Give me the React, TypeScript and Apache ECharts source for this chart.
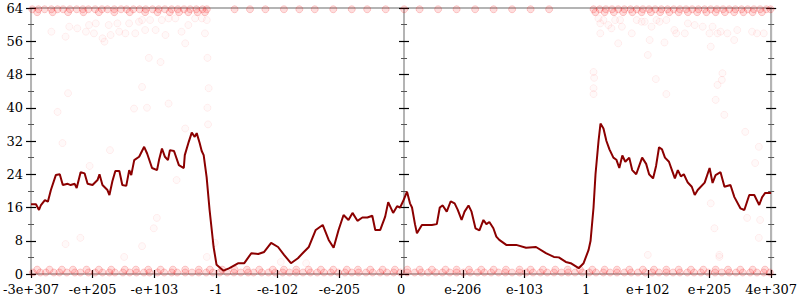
import React, { useEffect, useRef } from "react";
import * as echarts from "echarts";

const xTickLabels = ["-3e+307", "-e+205", "-e+103", "-1", "-e-102", "-e-205", "0", "e-206", "e-103", "1", "e+102", "e+205", "4e+307"];

const lineX = [
  0, 0.08, 0.129, 0.161, 0.225, 0.273, 0.322, 0.402, 0.466, 0.515, 0.595, 0.643, 0.708, 0.74, 0.804, 0.869, 0.917, 0.997,
  1.078, 1.11, 1.158, 1.239, 1.271, 1.319, 1.367, 1.432, 1.48, 1.544, 1.592, 1.625, 1.673, 1.753, 1.834, 1.882, 1.962,
  2.043, 2.075, 2.123, 2.171, 2.22, 2.252, 2.316, 2.332, 2.397, 2.477, 2.493, 2.557, 2.606, 2.654, 2.686, 2.734, 2.767,
  2.799, 2.847, 2.895, 2.96, 3.008, 3.121, 3.217, 3.362, 3.458, 3.571, 3.683, 3.78, 3.893, 4.005, 4.102, 4.214, 4.327,
  4.423, 4.504, 4.616, 4.729, 4.826, 4.906, 4.986, 5.067, 5.147, 5.212, 5.292, 5.372, 5.453, 5.533, 5.581, 5.662, 5.742,
  5.791, 5.871, 5.935, 5.984,
  6.032, 6.096, 6.144, 6.177, 6.225, 6.257, 6.337, 6.418, 6.498, 6.579, 6.627, 6.675, 6.74, 6.804, 6.868, 6.917, 6.981,
  7.029, 7.093, 7.142, 7.206, 7.27, 7.335, 7.383, 7.431, 7.496, 7.544, 7.592, 7.705, 7.866, 8.026, 8.187, 8.348, 8.477,
  8.557, 8.67, 8.75, 8.879, 8.959, 9.04, 9.072, 9.12, 9.152, 9.201, 9.233, 9.281, 9.329, 9.378, 9.442, 9.49, 9.538, 9.587,
  9.635, 9.699, 9.747, 9.812, 9.86, 9.908, 9.973, 10.021, 10.085, 10.134, 10.182, 10.23, 10.278, 10.343, 10.391, 10.439,
  10.487, 10.536, 10.584, 10.648, 10.713, 10.761, 10.809, 10.922, 11.002, 11.05, 11.099, 11.179, 11.243, 11.34, 11.404,
  11.501, 11.565, 11.645, 11.726, 11.806, 11.854, 11.903, 12
];
const lineY = [
  16.8, 16.8, 15.4, 16.6, 17.8, 17.4, 20.2, 23.8, 24, 21.4, 21.7, 21.4, 21.7, 20.7, 24.5, 24.2, 21.7, 21.4,
  22.6, 24, 21.4, 20.2, 19, 22.3, 24.8, 24.8, 21.4, 21.2, 25, 23.8, 27.4, 28.2, 30.6, 29, 25.5,
  25, 27.4, 30.2, 28.2, 27.4, 29.8, 29.6, 29, 26.2, 25.5, 28.6, 31.8, 34, 33, 33.9, 31.5, 29.6,
  28.6, 23.3, 15.4, 6.5, 2.2, 0.8, 1.4, 2.6, 2.6, 5, 4.8, 5.3, 7.5, 6.5, 4.6, 2.6, 3.8,
  5.3, 6.5, 10.6, 11.8, 8.2, 6.3, 10.6, 14.2, 13, 14.7, 12.8, 13.6, 13.6, 14, 10.6, 10.6, 13.8,
  17.3, 14.7, 16.3, 16,
  17.5, 19.8, 17, 16, 12, 9.8, 11.8, 11.8, 11.8, 12, 16, 16.5, 15, 17.5, 17, 15.5, 13,
  15, 16.5, 15, 11, 10.5, 13, 12, 12.5, 11, 9, 8.2, 7, 7, 6.3, 6.5, 5, 4.1,
  4, 2.9, 2.6, 1.4, 2.6, 5.8, 8, 16, 24, 32, 36.2, 35, 32, 30, 28, 27.5, 25.5, 28.5,
  27, 28, 25, 24, 26, 28, 26.5, 24, 23, 26, 30.5, 30, 28, 27, 25, 23,
  25, 23.5, 24, 22, 21, 19, 20.2, 22, 25.5, 21.9, 23.8, 24.5, 21, 21.4, 18.5,
  15.8, 15.4, 19, 19, 16.6, 18.5, 19.5, 19.5
];

const bandLowX = [
  0.03, 0.15, 0.24, 0.37, 0.46, 0.58, 0.71, 0.8, 0.93, 1.04, 1.16, 1.27, 1.36, 1.49, 1.6, 1.71, 1.83, 1.92, 2.05, 2.16,
  2.28, 2.37, 2.5, 2.61, 2.72, 2.84, 2.95, 3.06, 3.18, 3.29, 3.4, 3.52, 3.61, 3.74, 3.85, 3.96, 4.08, 4.19, 4.3, 4.41,
  4.53, 4.64, 4.75, 4.86, 4.98, 5.09, 5.2, 5.31, 5.43, 5.54, 5.66, 5.77, 5.88, 5.99, 6.1, 6.22, 6.33, 6.44, 6.56, 6.67,
  6.79, 6.9, 7.01, 7.12, 7.24, 7.35, 7.46, 7.58, 7.69, 7.8, 7.92, 8.03, 8.14, 8.26, 8.37, 8.48, 8.6, 8.71, 8.82, 8.94,
  9.05, 9.16, 9.28, 9.39, 9.5, 9.62, 9.73, 9.84, 9.96, 10.07, 10.18, 10.3, 10.41, 10.52, 10.64, 10.75, 10.86, 10.98,
  11.09, 11.2, 11.32, 11.43, 11.54, 11.66, 11.77, 11.88, 11.98
];
const bandLowX2 = [
  0.1, 0.3, 0.5, 0.68, 0.9, 1.1, 1.3, 1.52, 1.7, 1.9, 2.1, 2.3, 2.5, 2.72, 2.9, 3.1, 3.3, 3.5, 3.7, 3.92, 4.1, 4.3, 4.5,
  4.7, 4.9, 5.12, 5.3, 5.5, 5.7, 5.9, 6.1, 6.3, 6.5, 6.72, 6.9, 7.1, 7.3, 7.5, 7.7, 7.92, 8.1, 8.3, 8.5, 8.7, 8.9, 9.1,
  9.3, 9.5, 9.7, 9.92, 10.1, 10.3, 10.5, 10.7, 10.9, 11.1, 11.3, 11.5, 11.7, 11.9
];
const bandHighX = [
  0.02, 0.12, 0.22, 0.33, 0.43, 0.52, 0.63, 0.74, 0.84, 0.93, 1.04, 1.15, 1.24, 1.35, 1.46, 1.55, 1.66, 1.76, 1.86, 1.97,
  2.07, 2.17, 2.28, 2.38, 2.48, 2.58, 2.68, 2.78, 2.85, 3.3, 3.55, 3.8, 4.1, 4.35, 4.6, 4.9, 5.2, 5.45, 5.75, 6.05, 6.3,
  6.6, 6.9, 7.2, 7.5, 7.8, 8.1, 8.4, 9.12, 9.22, 9.32, 9.42, 9.52, 9.62, 9.72, 9.82, 9.92, 10.02, 10.12, 10.22, 10.32,
  10.42, 10.52, 10.62, 10.72, 10.82, 10.92, 11.02, 11.12, 11.22, 11.32, 11.42, 11.52, 11.62, 11.72, 11.82, 11.92, 11.99
];
const bandHighX2 = [
  0.1, 0.35, 0.6, 0.85, 1.1, 1.35, 1.6, 1.85, 2.05, 2.25, 2.4, 2.55, 2.7, 2.82, 9.15, 9.3, 9.45, 9.6, 9.75, 9.9, 10.05,
  10.2, 10.35, 10.5, 10.65, 10.8, 10.95, 11.1, 11.25, 11.4, 11.55, 11.7, 11.85
];
const bandLowY = 0.35;
const bandLowY2 = 1.05;
const bandHighY = 63.7;
const bandHighY2 = 63.0;

const scatterPts = [
  [0.33, 58.3], [0.56, 57.1], [0.62, 59.5], [0.75, 59.1], [0.89, 58.3], [0.94, 59.9], [1.02, 57.9], [1.05, 60.3],
  [1.16, 56.7], [1.19, 55.9], [1.26, 59.9], [1.29, 57.5], [1.4, 60.3], [1.43, 58.3], [1.53, 57.9], [1.59, 60.3],
  [1.69, 57.9], [1.75, 60.7], [1.8, 61.1], [1.85, 58.7], [1.93, 61.1], [2.02, 58.7], [2.12, 61.1], [2.18, 57.5],
  [2.23, 61.5], [2.34, 61.5], [2.44, 58.3], [2.5, 55.5], [2.55, 59.9], [2.66, 61.5], [2.77, 61.5], [2.82, 57.9],
  [2.85, 61.1], [1.91, 52], [2.1, 51], [2.86, 52], [2.88, 44.7], [1.8, 45], [0.6, 43.5], [2.86, 40], [2.87, 36],
  [2.5, 35], [0.43, 39], [1.88, 40], [1.67, 39.8], [2.23, 41], [0.51, 31.5], [1.28, 29.8], [0.95, 26], [2.36, 22.6],
  [2.04, 13.5], [1.99, 11], [0.8, 8.7], [0.56, 7.2], [1.8, 6.7], [1.51, 4.1], [4.05, 2.9], [4.46, 2.6], [2.98, 7.5],
  [2.85, 4.1],
  [9.2, 61.5], [9.23, 60.3], [9.28, 61.1], [9.36, 59.9], [9.41, 59.1], [9.47, 61.1], [9.55, 61.1], [9.58, 59.5],
  [9.74, 57.9], [9.82, 61.1], [9.9, 60.7], [9.95, 60.7], [10.06, 59.5], [10.14, 61.1], [10.19, 60.7], [10.3, 61.1],
  [10.43, 58.7], [10.46, 57.9], [10.6, 57.9], [10.65, 60.3], [10.76, 59.9], [10.89, 59.5], [11.0, 57.9], [11.05, 59.5],
  [11.13, 57.9], [11.18, 58.3], [11.29, 57.9], [11.4, 56.3], [11.45, 58.7], [11.69, 58.3], [11.77, 57.9], [11.88, 57.9],
  [9.23, 57.9], [9.52, 55.5], [10.03, 56.3], [10.27, 55.7], [11.02, 54.7], [9.12, 48.6], [9.13, 47.2], [9.12, 44.7],
  [9.12, 43.3], [10.0, 52.7], [10.13, 46.9], [11.21, 48.3], [11.2, 46.7], [11.13, 45.5], [10.3, 43.3], [11.1, 41.9],
  [11.24, 38.3], [11.58, 34.2], [11.8, 30.6], [11.74, 26.7], [11.02, 17], [11.61, 13.5], [11.8, 8.7], [11.16, 4.1],
  [11.08, 11], [11.82, 13], [10.0, 4.6], [11.16, 4.6]
];

export default function App() {
  const ref = useRef<HTMLDivElement>(null);
  useEffect(() => {
    if (!ref.current) return;
    const chart = echarts.init(ref.current, undefined, { renderer: "svg" });
    const font = "'DejaVu Serif', serif";
    const axisGray = "#b4b4b4";
    const mkY = (position: string, offset: number, inside: boolean, showLine: boolean, showLabel: boolean) => ({
      type: "value",
      min: 0,
      max: 64,
      interval: 8,
      position,
      offset,
      splitLine: { show: false },
      axisLine: { show: showLine, onZero: false, lineStyle: { color: axisGray, width: 2 } },
      axisTick: { show: true, inside, length: 5, lineStyle: { color: "#000", width: 1.2 } },
      minorTick: { show: true, splitNumber: 2, length: 3, lineStyle: { color: "#555", width: 1 } },
      minorSplitLine: { show: false },
      axisLabel: { show: showLabel, color: "#000", fontFamily: font, fontSize: 13, margin: 8 },
    });
    const bandData = [
      ...bandLowX.map((x) => [x, bandLowY]),
      ...bandLowX2.map((x) => [x, bandLowY2]),
      ...bandHighX.map((x) => [x, bandHighY]),
      ...bandHighX2.map((x) => [x, bandHighY2]),
    ];
    chart.setOption({
      animation: false,
      grid: {
        left: 28,
        right: 26,
        top: 8,
        bottom: 26,
        show: true,
        borderColor: axisGray,
        borderWidth: 2,
        backgroundColor: "transparent",
      },
      xAxis: [
        {
          type: "value",
          min: 0,
          max: 12,
          interval: 1,
          splitLine: { show: false },
          axisLine: { show: true, onZero: false, lineStyle: { color: axisGray, width: 2 } },
          axisTick: { show: true, length: 4, lineStyle: { color: "#000", width: 1.2 } },
          axisLabel: {
            color: "#000",
            fontFamily: font,
            fontSize: 13,
            margin: 9,
            formatter: (v: number) => xTickLabels[Math.round(v)] ?? "",
          },
        },
        {
          type: "value",
          min: 0,
          max: 12,
          interval: 1,
          position: "bottom",
          splitLine: { show: false },
          axisLine: { show: false, onZero: false },
          axisTick: { show: true, inside: true, length: 4, lineStyle: { color: "#000", width: 1.2 } },
          axisLabel: { show: false },
        },
      ],
      yAxis: [
        mkY("left", 0, false, true, true),
        mkY("left", 0, true, false, false),
        mkY("left", -373, false, true, false),
        mkY("left", -373, true, false, false),
        mkY("right", 0, false, true, false),
        mkY("right", 0, true, false, false),
      ],
      series: [
        {
          type: "scatter",
          xAxisIndex: 0,
          yAxisIndex: 0,
          symbol: "circle",
          symbolSize: 7,
          itemStyle: { color: "rgba(255,0,0,0.16)", borderColor: "rgba(235,0,0,0.22)", borderWidth: 1 },
          data: bandData,
          z: 1,
        },
        {
          type: "scatter",
          xAxisIndex: 0,
          yAxisIndex: 0,
          symbol: "circle",
          symbolSize: 7,
          itemStyle: { color: "rgba(255,0,0,0.03)", borderColor: "rgba(255,0,0,0.08)", borderWidth: 1 },
          data: scatterPts,
          z: 1,
        },
        {
          type: "line",
          xAxisIndex: 0,
          yAxisIndex: 0,
          showSymbol: false,
          symbol: "none",
          lineStyle: { color: "#8b0000", width: 2 },
          data: lineX.map((x, i) => [x, lineY[i]]),
          z: 3,
        },
      ],
    });
    return () => chart.dispose();
  }, []);
  return <div ref={ref} style={{ width: 800, height: 300, position: "absolute", left: 0, top: 0 }} />;
}
